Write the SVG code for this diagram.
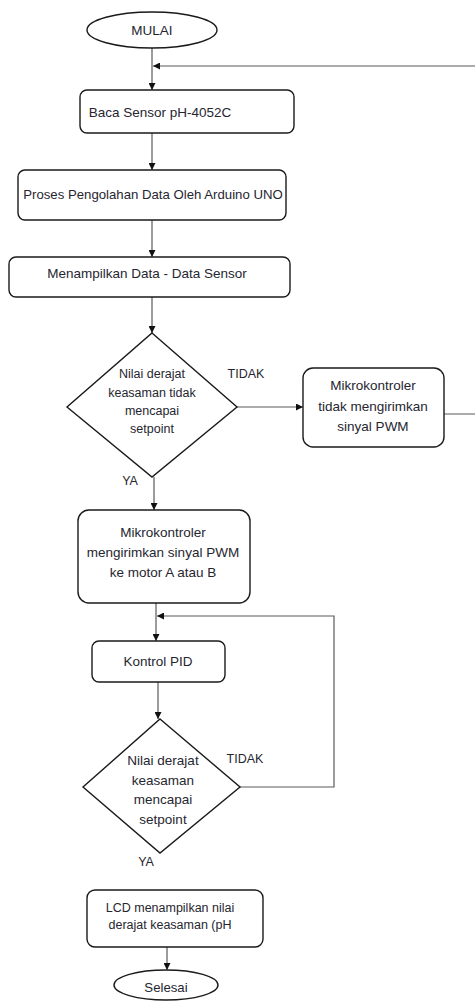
<svg xmlns="http://www.w3.org/2000/svg" width="475" height="1001" viewBox="0 0 475 1001">
<style>
.n{fill:#fff;stroke:#1a1a1a;stroke-width:1.4}
.t{font-family:"Liberation Sans",Arial,sans-serif;fill:#262630;text-anchor:middle;dominant-baseline:central}
.c{fill:none;stroke:#5a5a5a;stroke-width:1.2}
</style>
<defs>
<marker id="a" viewBox="0 0 10 10" refX="10" refY="5" markerWidth="7" markerHeight="7" markerUnits="userSpaceOnUse" orient="auto">
<path d="M0,0 L10,5 L0,10 z" fill="#111"/>
</marker>
</defs>
<g id="connectors">
<path class="c" d="M152,48 V90" marker-end="url(#a)"/>
<path class="c" d="M478,66 H153" marker-end="url(#a)"/>
<path class="c" d="M152,133 V170" marker-end="url(#a)"/>
<path class="c" d="M152,220 V257" marker-end="url(#a)"/>
<path class="c" d="M152,297 V333" marker-end="url(#a)"/>
<path class="c" d="M237,407 H303" marker-end="url(#a)"/>
<path class="c" d="M444,414 H478"/>
<path class="c" d="M154,477 V510" marker-end="url(#a)"/>
<path class="c" d="M156,603 V641" marker-end="url(#a)"/>
<path class="c" d="M240,787 H334 V616 H157" marker-end="url(#a)"/>
<path class="c" d="M158,682 V719" marker-end="url(#a)"/>
<path class="c" d="M167,947 V970" marker-end="url(#a)"/>
</g>
<g id="mulai">
<ellipse class="n" cx="152" cy="30" rx="65" ry="18"/>
<text class="t" x="152" y="30" font-size="13.5">MULAI</text>
</g>
<g id="baca">
<rect class="n" x="80" y="90" width="214" height="43" rx="7"/>
<text class="t" x="160" y="112" font-size="13.5">Baca Sensor pH-4052C</text>
</g>
<g id="proses">
<rect class="n" x="18" y="170" width="268" height="50" rx="7"/>
<text class="t" x="153" y="194" font-size="13.2">Proses Pengolahan Data Oleh Arduino UNO</text>
</g>
<g id="menampilkan">
<rect class="n" x="9" y="257" width="281" height="40" rx="7"/>
<text class="t" x="147" y="273" font-size="13.5">Menampilkan Data - Data Sensor</text>
</g>
<g id="decision1">
<polygon class="n" points="152,333 237,407 152,477 67,407"/>
<text class="t" font-size="12.5"><tspan x="152" y="374">Nilai derajat</tspan><tspan x="152" y="393">keasaman tidak</tspan><tspan x="152" y="411">mencapai</tspan><tspan x="152" y="429">setpoint</tspan></text>
</g>
<text class="t" x="246" y="374" font-size="12.5">TIDAK</text>
<text class="t" x="130" y="481" font-size="12.5">YA</text>
<g id="tidakkirim">
<rect class="n" x="303" y="368" width="141" height="79" rx="10"/>
<text class="t" font-size="13.5"><tspan x="373" y="385">Mikrokontroler</tspan><tspan x="373" y="406">tidak mengirimkan</tspan><tspan x="373" y="426">sinyal PWM</tspan></text>
</g>
<g id="kirim">
<rect class="n" x="78" y="510" width="172" height="93" rx="11"/>
<text class="t" font-size="13.5"><tspan x="163" y="532">Mikrokontroler</tspan><tspan x="163" y="552">mengirimkan sinyal PWM</tspan><tspan x="163" y="572">ke motor A atau B</tspan></text>
</g>
<g id="pid">
<rect class="n" x="92" y="641" width="133" height="41" rx="7"/>
<text class="t" x="158" y="661" font-size="13.5">Kontrol PID</text>
</g>
<g id="decision2">
<polygon class="n" points="160,719 240,787 160,853 83,787"/>
<text class="t" font-size="13.5"><tspan x="163" y="760">Nilai derajat</tspan><tspan x="163" y="780">keasaman</tspan><tspan x="163" y="799">mencapai</tspan><tspan x="163" y="819">setpoint</tspan></text>
</g>
<text class="t" x="245" y="759" font-size="12.5">TIDAK</text>
<text class="t" x="146" y="862" font-size="12.5">YA</text>
<g id="lcd">
<rect class="n" x="87" y="890" width="176" height="57" rx="8"/>
<text class="t" font-size="12.5"><tspan x="170" y="908">LCD menampilkan nilai</tspan><tspan x="170" y="925">derajat keasaman (pH</tspan></text>
</g>
<g id="selesai">
<ellipse class="n" cx="166" cy="985" rx="52" ry="15"/>
<text class="t" x="166" y="987" font-size="13.2">Selesai</text>
</g>
</svg>
